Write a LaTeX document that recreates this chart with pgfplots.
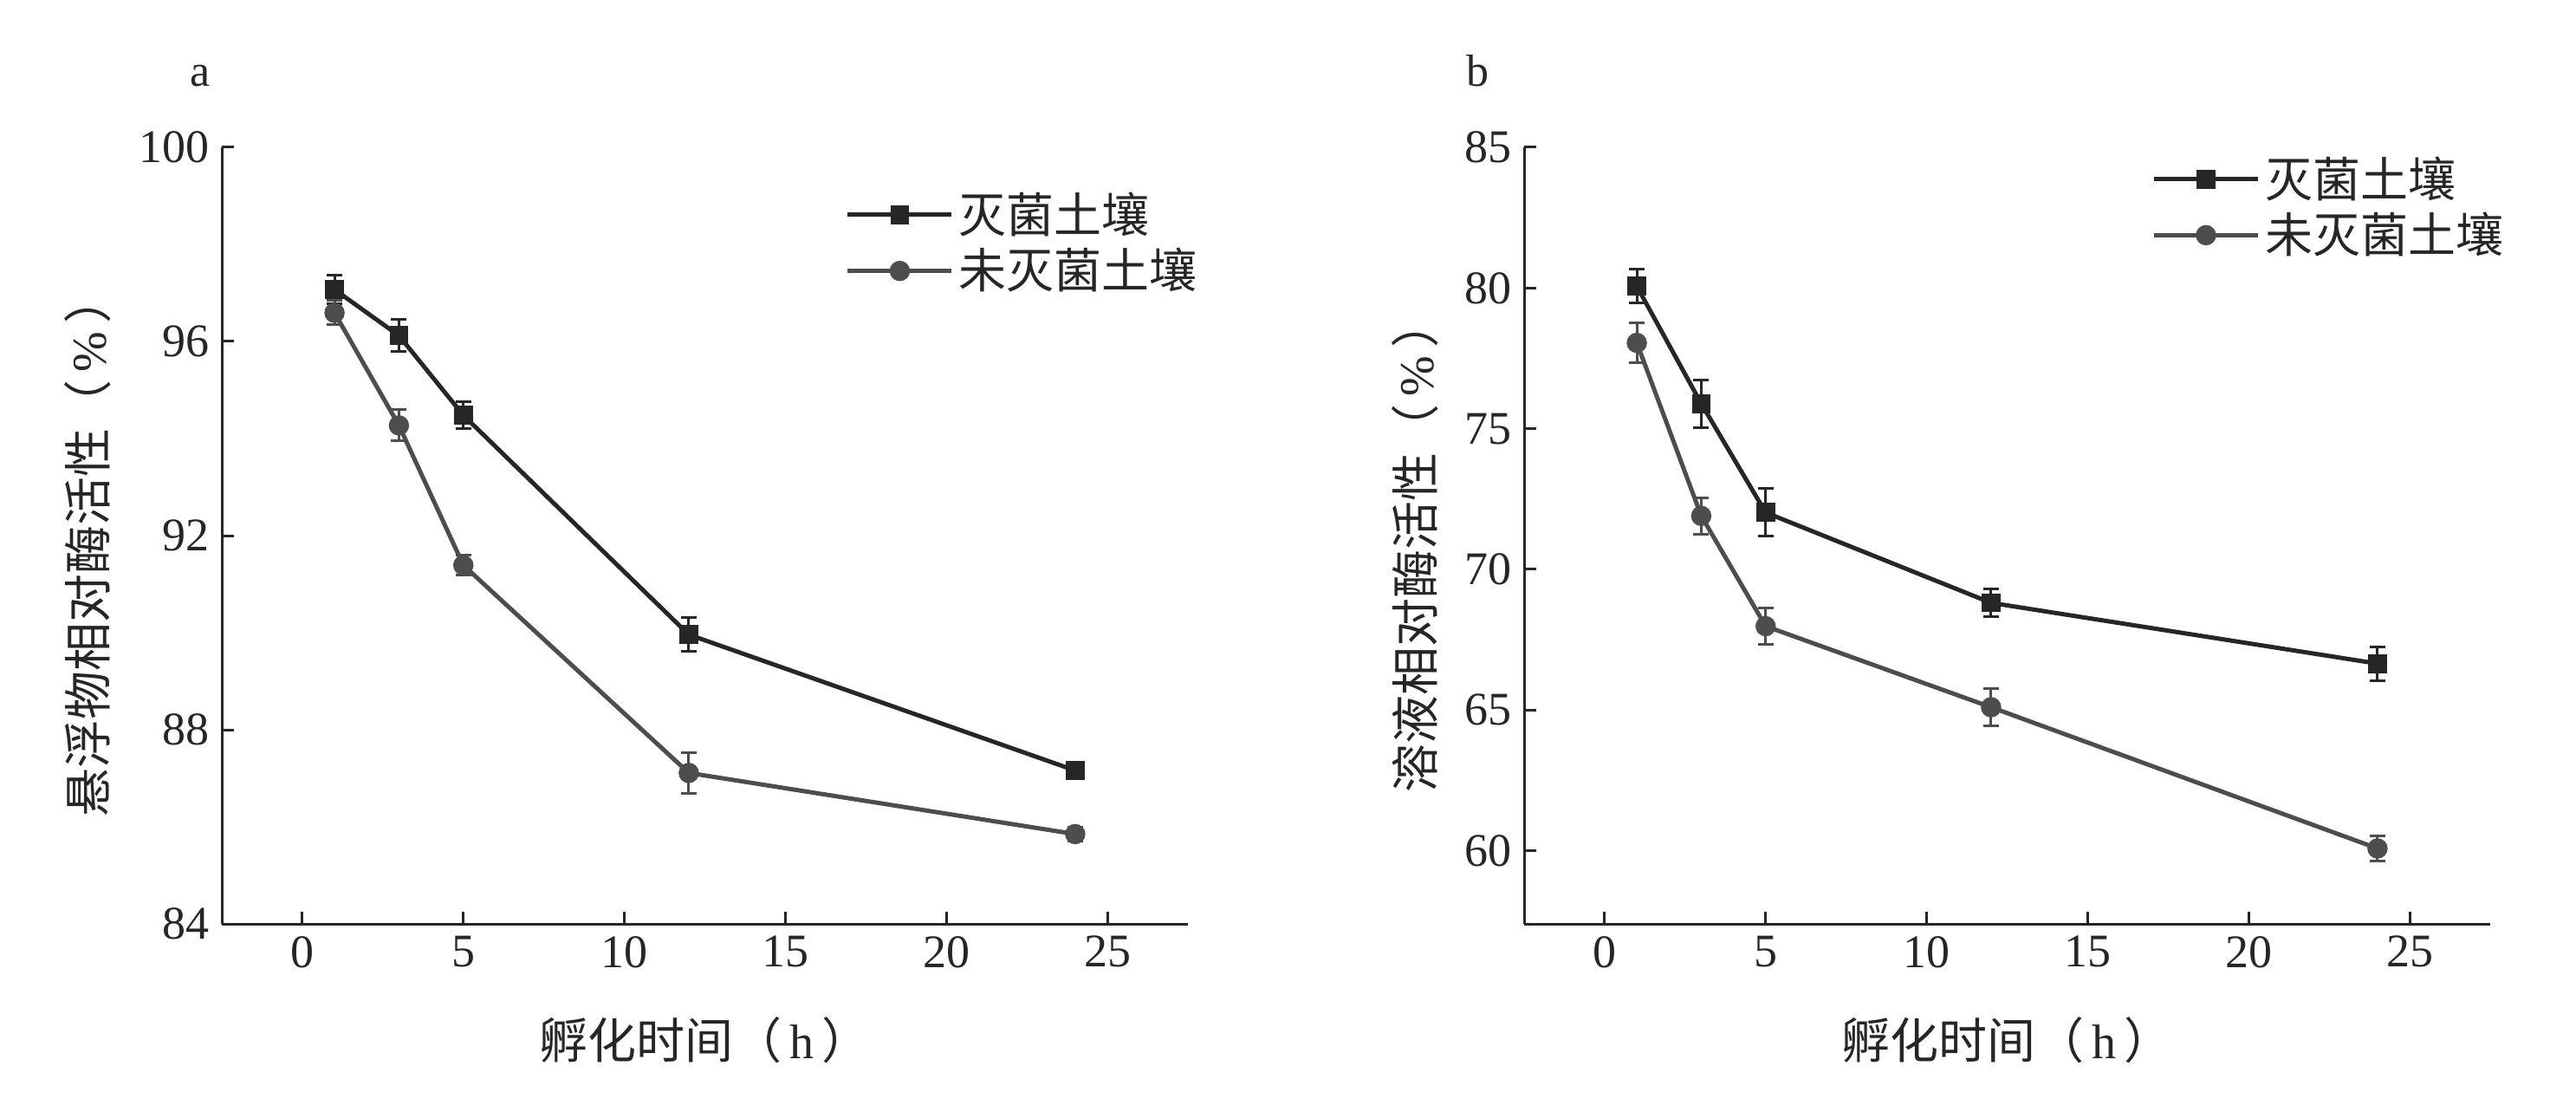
\documentclass[border=0pt]{standalone}
\usepackage{pgfplots}
\pgfplotsset{compat=1.18}
\usepackage{pgfplotstable}
\usepackage{fontspec}
\setmainfont{Liberation Serif}
\newfontfamily\cjk{Noto Sans CJK SC}
\newfontfamily\lat{Liberation Serif}
\definecolor{cA}{HTML}{262626}
\definecolor{cB}{HTML}{4D4D4D}

\pgfplotstableread{
x y e
1 97.07 0.30
3 96.12 0.33
5 94.48 0.28
12 89.96 0.35
24 87.16 0.15
}\aS
\pgfplotstableread{
x y e
1 96.59 0.25
3 94.27 0.32
5 91.39 0.20
12 87.11 0.42
24 85.85 0.15
}\aU
\pgfplotstableread{
x y e
1 80.06 0.60
3 75.89 0.85
5 72.02 0.85
12 68.81 0.50
24 66.65 0.60
}\bS
\pgfplotstableread{
x y e
1 78.05 0.70
3 71.90 0.65
5 67.98 0.65
12 65.10 0.65
24 60.08 0.45
}\bU

\pgfplotsset{
  myax/.style={
    scale only axis,
    anchor=south west,
    width=278.75pt, height=224pt,
    axis x line=bottom, axis y line=left,
    axis line style={-, line width=0.75pt, cA},
    every tick/.style={line width=0.75pt, cA},
    major tick length=3.5pt,
    tick align=inside,
    xmin=-2.5, xmax=27.5,
    xtick={0,5,10,15,20,25},
    /pgf/number format/assume math mode=true,
    tick label style={font=\fontsize{13.5pt}{15pt}\selectfont, text=cA},
    label style={font=\cjk\fontsize{14pt}{16pt}\selectfont, text=cA},
    xlabel style={at={([yshift=-33.5pt]axis description cs:0.5,0)}, anchor=center},
    xlabel={孵化时间（{\lat\,h\,}）},
    legend style={draw=none, fill=none, inner sep=0pt, row sep=0pt,
      font=\cjk\fontsize{13.75pt}{15pt}\selectfont, text=cA,
      legend cell align=left,
      nodes={inner sep=1.5pt}},
    legend image code/.code={%
      \draw[mark repeat=2,mark phase=2] plot coordinates {(0pt,0pt) (15pt,0pt) (30pt,0pt)};},
  },
  eb/.style={
    error bars/y dir=both, error bars/y explicit,
    error bars/error bar style={line width=0.75pt},
    error bars/error mark options={rotate=90, mark size=2.25pt, line width=0.75pt},
  },
  sS/.style={cA, line width=1.25pt, mark=square*, mark size=2.1pt, mark options={solid, fill=cA}, eb},
  sU/.style={cB, line width=1.25pt, mark=*, mark size=2.3pt, mark options={solid, fill=cB}, eb},
}

\begin{document}
\begin{tikzpicture}
\useasboundingbox (0,0) rectangle (743.25pt,318.5pt);
\begin{axis}[myax, at={(64pt,52pt)},
  ymin=84, ymax=100, ytick={84,88,92,96,100},
  ylabel={悬浮物相对酶活性（{\lat\,\%\,}）},
  ylabel style={at={([xshift=-38.75pt,yshift=-3pt]axis description cs:0,0.5)}, anchor=center},
  legend style={at={(0.645,0.950)}, anchor=north west},
]
\addplot+[sS] table[x=x, y=y, y error=e]{\aS};
\addlegendentry{灭菌土壤}
\addplot+[sU] table[x=x, y=y, y error=e]{\aU};
\addlegendentry{未灭菌土壤}
\end{axis}
\node[anchor=base, font=\fontsize{13pt}{15pt}\selectfont, text=cA] at (57.75pt,293.6pt) {a};

\begin{axis}[myax, at={(439.75pt,52pt)},
  ymin=57.4, ymax=85, ytick={60,65,70,75,80,85},
  ylabel={溶液相对酶活性（{\lat\,\%\,}）},
  ylabel style={at={([xshift=-31.5pt,yshift=-3pt]axis description cs:0,0.5)}, anchor=center},
  legend style={at={(0.649,0.996)}, anchor=north west},
]
\addplot+[sS] table[x=x, y=y, y error=e]{\bS};
\addlegendentry{灭菌土壤}
\addplot+[sU] table[x=x, y=y, y error=e]{\bU};
\addlegendentry{未灭菌土壤}
\end{axis}
\node[anchor=base, font=\fontsize{13pt}{15pt}\selectfont, text=cA] at (426.25pt,293.6pt) {b};
\end{tikzpicture}
\end{document}
